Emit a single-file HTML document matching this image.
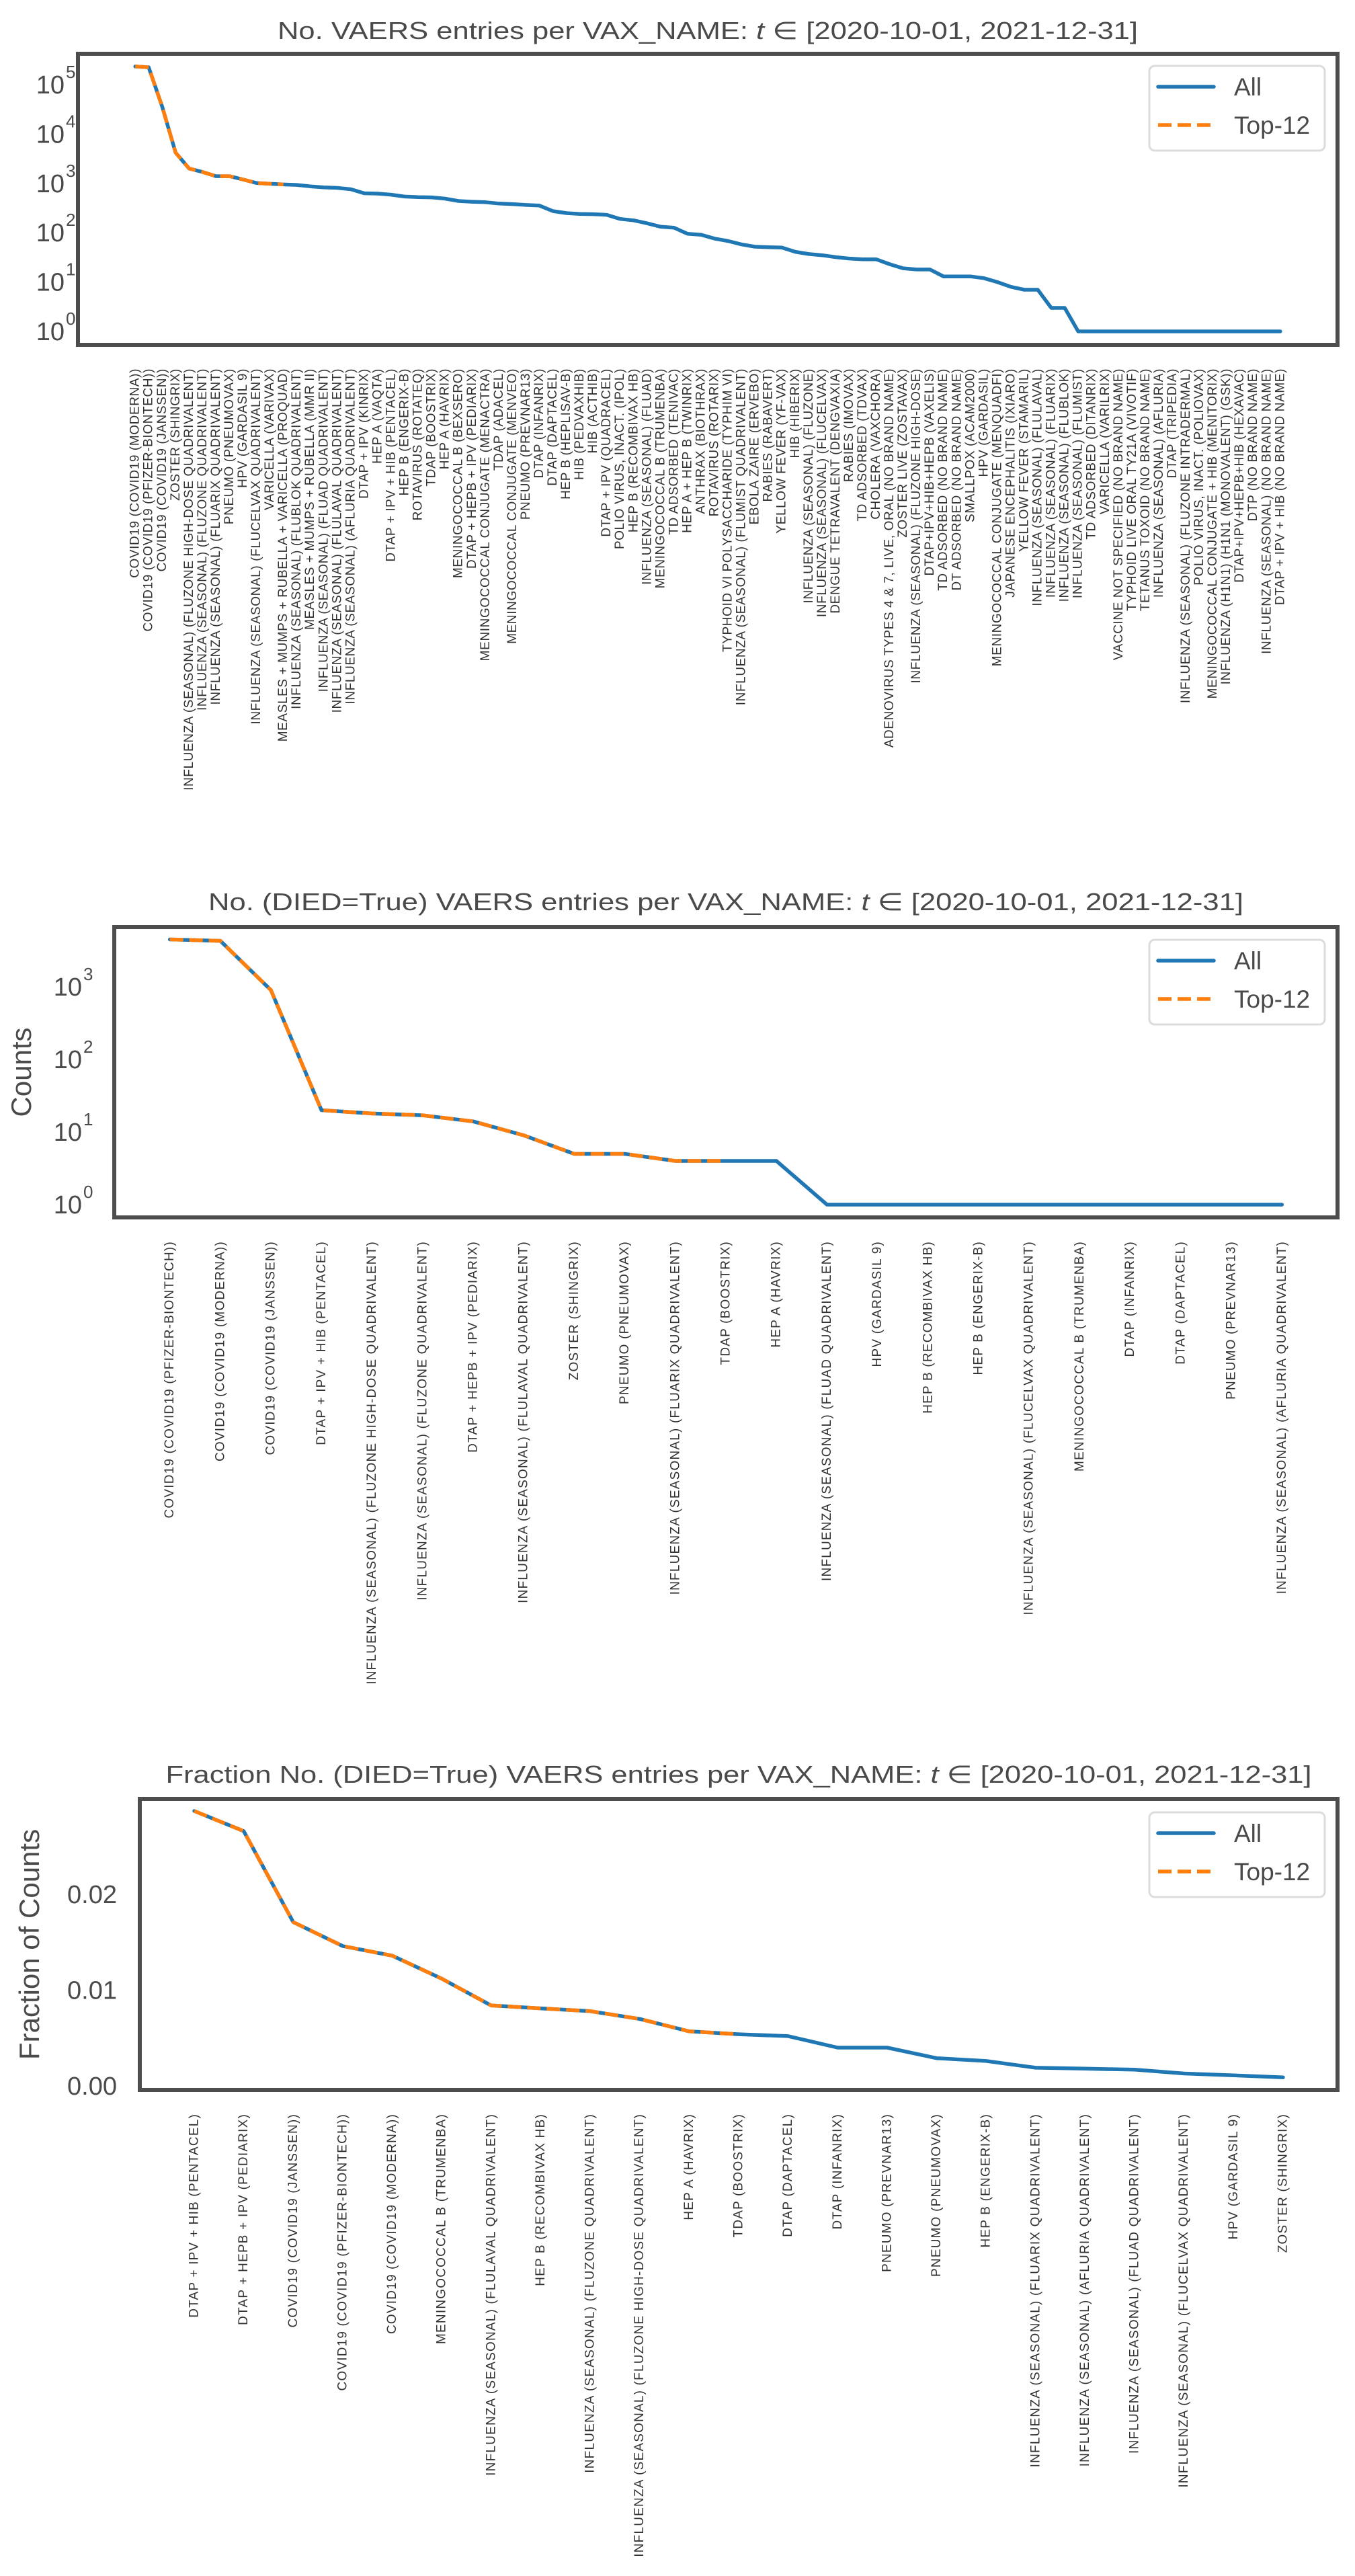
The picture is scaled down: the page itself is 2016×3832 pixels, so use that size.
<!DOCTYPE html>
<html><head><meta charset="utf-8"><style>
html,body{margin:0;padding:0;background:#fff;}
svg{display:block;font-family:"Liberation Sans",Arial,sans-serif;}
</style></head><body>
<svg id="fig" width="2016" height="3832" viewBox="0 0 2016 3832" xmlns="http://www.w3.org/2000/svg">
<rect x="0" y="0" width="2016" height="3832" fill="#fff"/>
</svg>
<script>
const c1Labels=["COVID19 (COVID19 (MODERNA))","COVID19 (COVID19 (PFIZER-BIONTECH))","COVID19 (COVID19 (JANSSEN))","ZOSTER (SHINGRIX)","INFLUENZA (SEASONAL) (FLUZONE HIGH-DOSE QUADRIVALENT)","INFLUENZA (SEASONAL) (FLUZONE QUADRIVALENT)","INFLUENZA (SEASONAL) (FLUARIX QUADRIVALENT)","PNEUMO (PNEUMOVAX)","HPV (GARDASIL 9)","INFLUENZA (SEASONAL) (FLUCELVAX QUADRIVALENT)","VARICELLA (VARIVAX)","MEASLES + MUMPS + RUBELLA + VARICELLA (PROQUAD)","INFLUENZA (SEASONAL) (FLUBLOK QUADRIVALENT)","MEASLES + MUMPS + RUBELLA (MMR II)","INFLUENZA (SEASONAL) (FLUAD QUADRIVALENT)","INFLUENZA (SEASONAL) (FLULAVAL QUADRIVALENT)","INFLUENZA (SEASONAL) (AFLURIA QUADRIVALENT)","DTAP + IPV (KINRIX)","HEP A (VAQTA)","DTAP + IPV + HIB (PENTACEL)","HEP B (ENGERIX-B)","ROTAVIRUS (ROTATEQ)","TDAP (BOOSTRIX)","HEP A (HAVRIX)","MENINGOCOCCAL B (BEXSERO)","DTAP + HEPB + IPV (PEDIARIX)","MENINGOCOCCAL CONJUGATE (MENACTRA)","TDAP (ADACEL)","MENINGOCOCCAL CONJUGATE (MENVEO)","PNEUMO (PREVNAR13)","DTAP (INFANRIX)","DTAP (DAPTACEL)","HEP B (HEPLISAV-B)","HIB (PEDVAXHIB)","HIB (ACTHIB)","DTAP + IPV (QUADRACEL)","POLIO VIRUS, INACT. (IPOL)","HEP B (RECOMBIVAX HB)","INFLUENZA (SEASONAL) (FLUAD)","MENINGOCOCCAL B (TRUMENBA)","TD ADSORBED (TENIVAC)","HEP A + HEP B (TWINRIX)","ANTHRAX (BIOTHRAX)","ROTAVIRUS (ROTARIX)","TYPHOID VI POLYSACCHARIDE (TYPHIM VI)","INFLUENZA (SEASONAL) (FLUMIST QUADRIVALENT)","EBOLA ZAIRE (ERVEBO)","RABIES (RABAVERT)","YELLOW FEVER (YF-VAX)","HIB (HIBERIX)","INFLUENZA (SEASONAL) (FLUZONE)","INFLUENZA (SEASONAL) (FLUCELVAX)","DENGUE TETRAVALENT (DENGVAXIA)","RABIES (IMOVAX)","TD ADSORBED (TDVAX)","CHOLERA (VAXCHORA)","ADENOVIRUS TYPES 4 & 7, LIVE, ORAL (NO BRAND NAME)","ZOSTER LIVE (ZOSTAVAX)","INFLUENZA (SEASONAL) (FLUZONE HIGH-DOSE)","DTAP+IPV+HIB+HEPB (VAXELIS)","TD ADSORBED (NO BRAND NAME)","DT ADSORBED (NO BRAND NAME)","SMALLPOX (ACAM2000)","HPV (GARDASIL)","MENINGOCOCCAL CONJUGATE (MENQUADFI)","JAPANESE ENCEPHALITIS (IXIARO)","YELLOW FEVER (STAMARIL)","INFLUENZA (SEASONAL) (FLULAVAL)","INFLUENZA (SEASONAL) (FLUARIX)","INFLUENZA (SEASONAL) (FLUBLOK)","INFLUENZA (SEASONAL) (FLUMIST)","TD ADSORBED (DITANRIX)","VARICELLA (VARILRIX)","VACCINE NOT SPECIFIED (NO BRAND NAME)","TYPHOID LIVE ORAL TY21A (VIVOTIF)","TETANUS TOXOID (NO BRAND NAME)","INFLUENZA (SEASONAL) (AFLURIA)","DTAP (TRIPEDIA)","INFLUENZA (SEASONAL) (FLUZONE INTRADERMAL)","POLIO VIRUS, INACT. (POLIOVAX)","MENINGOCOCCAL CONJUGATE + HIB (MENITORIX)","INFLUENZA (H1N1) (H1N1 (MONOVALENT) (GSK))","DTAP+IPV+HEPB+HIB (HEXAVAC)","DTP (NO BRAND NAME)","INFLUENZA (SEASONAL) (NO BRAND NAME)","DTAP + IPV + HIB (NO BRAND NAME)"];
const c1Values=[234000,225000,36000,4200,2000,1700,1400,1400,1200,1020,980,950,930,870,830,810,760,630,620,590,540,525,520,490,440,425,415,390,380,365,355,275,250,240,238,230,190,178,155,132,126,95,91,76,68,58,52,51,50,41,37,35,32,30,29,29,23,19,18,18,13,13,13,12,10,8,7,7,3,3,1,1,1,1,1,1,1,1,1,1,1,1,1,1,1,1];
const c1Ticks=[0,1,2,3,4,5];
const c2Labels=["COVID19 (COVID19 (PFIZER-BIONTECH))","COVID19 (COVID19 (MODERNA))","COVID19 (COVID19 (JANSSEN))","DTAP + IPV + HIB (PENTACEL)","INFLUENZA (SEASONAL) (FLUZONE HIGH-DOSE QUADRIVALENT)","INFLUENZA (SEASONAL) (FLUZONE QUADRIVALENT)","DTAP + HEPB + IPV (PEDIARIX)","INFLUENZA (SEASONAL) (FLULAVAL QUADRIVALENT)","ZOSTER (SHINGRIX)","PNEUMO (PNEUMOVAX)","INFLUENZA (SEASONAL) (FLUARIX QUADRIVALENT)","TDAP (BOOSTRIX)","HEP A (HAVRIX)","INFLUENZA (SEASONAL) (FLUAD QUADRIVALENT)","HPV (GARDASIL 9)","HEP B (RECOMBIVAX HB)","HEP B (ENGERIX-B)","INFLUENZA (SEASONAL) (FLUCELVAX QUADRIVALENT)","MENINGOCOCCAL B (TRUMENBA)","DTAP (INFANRIX)","DTAP (DAPTACEL)","PNEUMO (PREVNAR13)","INFLUENZA (SEASONAL) (AFLURIA QUADRIVALENT)"];
const c2Values=[4500,4300,900,20,18,17,14,9,5,5,4,4,4,1,1,1,1,1,1,1,1,1,1];
const c2Ticks=[0,1,2,3];
const c3Labels=["DTAP + IPV + HIB (PENTACEL)","DTAP + HEPB + IPV (PEDIARIX)","COVID19 (COVID19 (JANSSEN))","COVID19 (COVID19 (PFIZER-BIONTECH))","COVID19 (COVID19 (MODERNA))","MENINGOCOCCAL B (TRUMENBA)","INFLUENZA (SEASONAL) (FLULAVAL QUADRIVALENT)","HEP B (RECOMBIVAX HB)","INFLUENZA (SEASONAL) (FLUZONE QUADRIVALENT)","INFLUENZA (SEASONAL) (FLUZONE HIGH-DOSE QUADRIVALENT)","HEP A (HAVRIX)","TDAP (BOOSTRIX)","DTAP (DAPTACEL)","DTAP (INFANRIX)","PNEUMO (PREVNAR13)","PNEUMO (PNEUMOVAX)","HEP B (ENGERIX-B)","INFLUENZA (SEASONAL) (FLUARIX QUADRIVALENT)","INFLUENZA (SEASONAL) (AFLURIA QUADRIVALENT)","INFLUENZA (SEASONAL) (FLUAD QUADRIVALENT)","INFLUENZA (SEASONAL) (FLUCELVAX QUADRIVALENT)","HPV (GARDASIL 9)","ZOSTER (SHINGRIX)"];
const c3Values=[0.0287,0.0266,0.0171,0.0146,0.0136,0.0112,0.0084,0.0081,0.0078,0.0070,0.0057,0.0054,0.0052,0.0040,0.0040,0.0029,0.0026,0.0019,0.0018,0.0017,0.0013,0.0011,0.0009];
const c3Ticks=["0.00","0.01","0.02"];
const topN=12;

const NS="http://www.w3.org/2000/svg";
const svg=document.getElementById('fig');
const TXT="#4a4a4a";
function mk(tag,attrs,parent){const e=document.createElementNS(NS,tag);for(const k in attrs)e.setAttribute(k,attrs[k]);(parent||svg).appendChild(e);return e;}

function chart(cfg){
  const g=mk('g',{});
  
  
  const L=cfg.left,R=cfg.right,T=cfg.top,B=cfg.bottom,n=cfg.values.length;
  const unit=(R-L)/((n-1)*1.1);
  const xs=i=>L+unit*(n-1)*0.05+unit*i;
  const ys=cfg.ys;
  // title
  const t=mk('text',{x:(L+R)/2,y:cfg.titleY,'text-anchor':'middle','font-size':36,fill:TXT,textLength:cfg.titleW,lengthAdjust:'spacingAndGlyphs'},g);
  
  
  t.innerHTML=cfg.title;
  // ticks
  cfg.ticks.forEach((tv)=>{
    const y=cfg.tickY(tv);
    if(cfg.log){
      const tt=mk('text',{x:cfg.tickX,y:y+13,'text-anchor':'end','font-size':38,fill:TXT},g);
      
      
      tt.textContent='10';
      const sp=mk('text',{x:cfg.tickX+2,y:y-10,'text-anchor':'start','font-size':26,fill:TXT},g);
      
      
      sp.textContent=String(tv);
    } else {
      const tt=mk('text',{x:cfg.tickX,y:y+13,'text-anchor':'end','font-size':38,fill:TXT},g);
      
      
      tt.textContent=tv;
    }
  });
  if(cfg.ylabel){
    const yl=mk('text',{x:0,y:0,'text-anchor':'middle','font-size':42,fill:TXT,transform:`translate(${cfg.ylabelX},${(T+B)/2}) rotate(-90)`},g);
    
    
    yl.textContent=cfg.ylabel;
  }
  // labels
  cfg.labels.forEach((lb,i)=>{
    const x=xs(i);
    const lt=mk('text',{x:0,y:0,'text-anchor':'end','font-size':cfg.labelSize,'letter-spacing':cfg.labelLS,fill:'#333','dominant-baseline':'central',transform:`translate(${x},${B+35}) rotate(-90)`},g);
    
    
    lt.textContent=lb;
  });
  // series
  const allPts=cfg.values.map((v,i)=>xs(i).toFixed(1)+','+ys(v).toFixed(1)).join(' ');
  const pl=mk('polyline',{points:allPts,fill:'none',stroke:'#1f77b4','stroke-width':5.5,'stroke-linejoin':'round','stroke-linecap':'round'},g);
  
  
  const topPts=cfg.values.slice(0,topN).map((v,i)=>xs(i).toFixed(1)+','+ys(v).toFixed(1)).join(' ');
  const pt=mk('polyline',{points:topPts,fill:'none',stroke:'#ff7f0e','stroke-width':5.5,'stroke-dasharray':'20 9'},g);
  
  
  // frame
  const fr=mk('rect',{x:L,y:T,width:R-L,height:B-T,fill:'none',stroke:'#4d4d4d','stroke-width':6},g);
  
  
  // legend
  const lg=mk('g',{},g);
  
  
  const lx=1710,ly=cfg.legY;
  const lr=mk('rect',{x:lx,y:ly,width:261,height:126,rx:8,fill:'#fff',stroke:'#dcdcdc','stroke-width':3},lg);
  
  
  const l1=mk('line',{x1:lx+13,y1:ly+31,x2:lx+96,y2:ly+31,stroke:'#1f77b4','stroke-width':5.5,'stroke-linecap':'round'},lg);
  
  
  const t1=mk('text',{x:lx+126,y:ly+44,'font-size':37,fill:TXT},lg);
  
  
  t1.textContent='All';
  const l2=mk('line',{x1:lx+13,y1:ly+88,x2:lx+96,y2:ly+88,stroke:'#ff7f0e','stroke-width':5.5,'stroke-dasharray':'20 9'},lg);
  
  
  const t2=mk('text',{x:lx+126,y:ly+101,'font-size':37,fill:TXT},lg);
  
  
  t2.textContent='Top-12';
}

chart({name:'chart-all-entries',left:116,right:1990,top:80,bottom:513,values:c1Values,labels:c1Labels,
  ys:v=>493-73.4*Math.log10(v),log:true,ticks:c1Ticks,tickY:tv=>493-73.4*tv,tickX:96,
  title:'No. VAERS entries per VAX_NAME: <tspan font-style="italic">t</tspan> ∈  [2020-10-01, 2021-12-31]',titleY:58,titleW:1280,
  labelSize:19,labelLS:0.6,legY:98});
chart({name:'chart-died-entries',left:170,right:1990,top:1379,bottom:1811,values:c2Values,labels:c2Labels,
  ys:v=>1792-108*Math.log10(v),log:true,ticks:c2Ticks,tickY:tv=>1792-108*tv,tickX:122,ylabel:'Counts',ylabelX:46,
  title:'No. (DIED=True) VAERS entries per VAX_NAME: <tspan font-style="italic">t</tspan> ∈  [2020-10-01, 2021-12-31]',titleY:1354,titleW:1540,
  labelSize:19,labelLS:1.2,legY:1398});
chart({name:'chart-died-fraction',left:208,right:1990,top:2676,bottom:3109,values:c3Values,labels:c3Labels,
  ys:v=>3103-14250*v,log:false,ticks:c3Ticks,tickY:tv=>3103-14250*parseFloat(tv),tickX:174,ylabel:'Fraction of Counts',ylabelX:58,
  title:'Fraction No. (DIED=True) VAERS entries per VAX_NAME: <tspan font-style="italic">t</tspan> ∈  [2020-10-01, 2021-12-31]',titleY:2652,titleW:1705,
  labelSize:19,labelLS:1.2,legY:2696});
</script>
</body></html>
